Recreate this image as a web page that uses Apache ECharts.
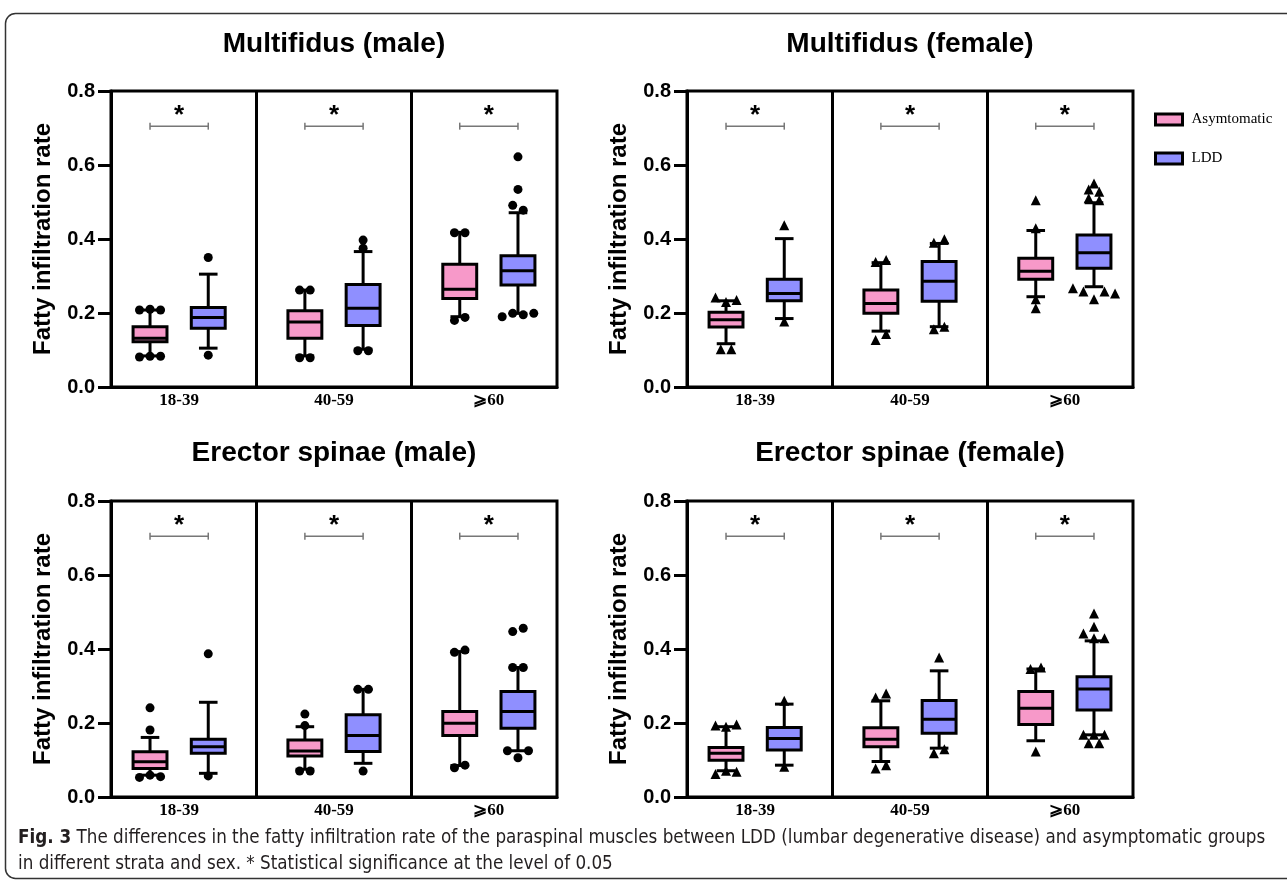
<!DOCTYPE html>
<html><head><meta charset="utf-8">
<script src="https://cdn.jsdelivr.net/npm/echarts@6/dist/echarts.min.js"></script>
<style>html,body{margin:0;padding:0;background:#fff}#c{width:1287px;height:881px}</style>
</head><body><div id="c"></div>
<script>
// ---------------- data ----------------
const categories = ['18-39', '40-59', '⩾60'];
const yTicks = [0, 0.2, 0.4, 0.6, 0.8];
const seriesNames = ['Asymtomatic', 'LDD'];
const panelTitles = ['Multifidus (male)', 'Multifidus (female)', 'Erector spinae (male)', 'Erector spinae (female)'];
const yAxisTitle = 'Fatty infiltration rate';
const captionBold = 'Fig. 3';
const captionLine1 = 'The differences in the fatty infiltration rate of the paraspinal muscles between LDD (lumbar degenerative disease) and asymptomatic groups';
const captionLine2 = 'in different strata and sex. * Statistical significance at the level of 0.05';

// box statistics per age group: [lower whisker, Q1, median, Q3, upper whisker]
const multifidusMaleAsym   = [[0.084, 0.122, 0.132, 0.163, 0.208], [0.084, 0.132, 0.176, 0.206, 0.262], [0.190, 0.239, 0.264, 0.332, 0.418]];
const multifidusMaleLDD    = [[0.105, 0.159, 0.188, 0.215, 0.305], [0.102, 0.166, 0.213, 0.277, 0.366], [0.199, 0.276, 0.314, 0.355, 0.471]];
const multifidusFemaleAsym = [[0.117, 0.162, 0.182, 0.202, 0.233], [0.151, 0.199, 0.226, 0.262, 0.336], [0.244, 0.291, 0.313, 0.348, 0.423]];
const multifidusFemaleLDD  = [[0.185, 0.233, 0.253, 0.291, 0.401], [0.163, 0.232, 0.286, 0.339, 0.388], [0.271, 0.321, 0.363, 0.411, 0.498]];
const erectorMaleAsym      = [[0.059, 0.077, 0.095, 0.122, 0.161], [0.075, 0.111, 0.124, 0.154, 0.190], [0.085, 0.166, 0.199, 0.231, 0.393]];
const erectorMaleLDD       = [[0.064, 0.118, 0.136, 0.156, 0.256], [0.091, 0.123, 0.166, 0.222, 0.291], [0.125, 0.186, 0.231, 0.285, 0.350]];
const erectorFemaleAsym    = [[0.071, 0.099, 0.118, 0.134, 0.190], [0.096, 0.136, 0.156, 0.187, 0.260], [0.152, 0.196, 0.240, 0.285, 0.346]];
const erectorFemaleLDD     = [[0.086, 0.127, 0.158, 0.188, 0.251], [0.132, 0.172, 0.210, 0.261, 0.341], [0.168, 0.235, 0.292, 0.325, 0.422]];

// outliers per age group (listed left to right where they sit side by side)
const multifidusMaleAsymOut   = [[0.208, 0.210, 0.208, 0.081, 0.083, 0.083], [0.262, 0.262, 0.079, 0.079], [0.417, 0.417, 0.180, 0.188]];
const multifidusMaleLDDOut    = [[0.350, 0.086], [0.397, 0.375, 0.098, 0.098], [0.622, 0.534, 0.491, 0.478, 0.190, 0.199, 0.195, 0.199]];
const multifidusFemaleAsymOut = [[0.242, 0.230, 0.235, 0.102, 0.102], [0.338, 0.343, 0.127, 0.143], [0.505, 0.429, 0.237, 0.213]];
const multifidusFemaleLDDOut  = [[0.437, 0.177], [0.390, 0.399, 0.156, 0.163], [0.510, 0.505, 0.534, 0.528, 0.550, 0.267, 0.258, 0.237, 0.258, 0.253]];
const erectorMaleAsymOut      = [[0.241, 0.181, 0.053, 0.059, 0.055], [0.224, 0.193, 0.070, 0.070], [0.391, 0.397, 0.079, 0.086]];
const erectorMaleLDDOut       = [[0.387, 0.057], [0.291, 0.291, 0.070], [0.447, 0.456, 0.350, 0.350, 0.125, 0.106, 0.125]];
const erectorFemaleAsymOut    = [[0.193, 0.190, 0.196, 0.062, 0.071, 0.068], [0.269, 0.280, 0.077, 0.086], [0.346, 0.350, 0.123]];
const erectorFemaleLDDOut     = [[0.260, 0.082], [0.377, 0.118, 0.129], [0.496, 0.442, 0.429, 0.429, 0.460, 0.168, 0.168, 0.168, 0.145, 0.145]];

// significance marks (one per age group)
const significance = ['*', '*', '*'];

// ---------------- layout / style ----------------
const PAIR_OFFSET = 0.188;   // half distance between the two boxes of a group (x units)
const BOX_W = 0.219;
const CAP_W = 0.12;
const JITTER = 0.068;
const CLUSTER_GAP = 0.0215;
const SIG_LEVEL = 0.705;
const X_MIN = -0.44, X_MAX = 2.44;
const COLORS = ['#F799C9', '#8F8FFF'];
const SANS = "'Liberation Sans', Arial, Helvetica, sans-serif";
const SERIF = "'Liberation Serif', 'Times New Roman', 'DejaVu Serif', serif";

const panels = [
  { title: panelTitles[0], box: [multifidusMaleAsym, multifidusMaleLDD], out: [multifidusMaleAsymOut, multifidusMaleLDDOut], symbol: 'circle', pos: { left: 111, top: 91 }, titlePos: [334, 44] },
  { title: panelTitles[1], box: [multifidusFemaleAsym, multifidusFemaleLDD], out: [multifidusFemaleAsymOut, multifidusFemaleLDDOut], symbol: 'triangle', pos: { left: 687, top: 91 }, titlePos: [910, 44] },
  { title: panelTitles[2], box: [erectorMaleAsym, erectorMaleLDD], out: [erectorMaleAsymOut, erectorMaleLDDOut], symbol: 'circle', pos: { left: 111, top: 501 }, titlePos: [334, 453] },
  { title: panelTitles[3], box: [erectorFemaleAsym, erectorFemaleLDD], out: [erectorFemaleAsymOut, erectorFemaleLDDOut], symbol: 'triangle', pos: { left: 687, top: 501 }, titlePos: [910, 453] }
];

function spreadOutliers(groups, side) {
  const pts = [];
  groups.forEach((vals, g) => {
    let cluster = [];
    const flush = () => {
      const n = cluster.length;
      cluster.forEach((v, i) => pts.push([g + side * PAIR_OFFSET + (i - (n - 1) / 2) * JITTER, v]));
      cluster = [];
    };
    vals.forEach(v => {
      if (cluster.length && Math.abs(v - cluster[cluster.length - 1]) >= CLUSTER_GAP) flush();
      cluster.push(v);
    });
    flush();
  });
  return pts;
}

function boxRenderer(side, color) {
  return function (params, api) {
    const x = api.value(0) + side * PAIR_OFFSET;
    const pLow = api.coord([x, api.value(1)]);
    const pQ1 = api.coord([x, api.value(2)]);
    const pMed = api.coord([x, api.value(3)]);
    const pQ3 = api.coord([x, api.value(4)]);
    const pHigh = api.coord([x, api.value(5)]);
    const bw = api.size([BOX_W, 0])[0];
    const cw = api.size([CAP_W, 0])[0];
    const cx = pQ1[0];
    const ls = { stroke: '#000', lineWidth: 3 };
    return {
      type: 'group', children: [
        { type: 'line', shape: { x1: cx, y1: pHigh[1], x2: cx, y2: pQ3[1] }, style: ls },
        { type: 'line', shape: { x1: cx, y1: pQ1[1], x2: cx, y2: pLow[1] }, style: ls },
        { type: 'line', shape: { x1: cx - cw / 2, y1: pHigh[1], x2: cx + cw / 2, y2: pHigh[1] }, style: ls },
        { type: 'line', shape: { x1: cx - cw / 2, y1: pLow[1], x2: cx + cw / 2, y2: pLow[1] }, style: ls },
        { type: 'rect', shape: { x: cx - bw / 2, y: pQ3[1], width: bw, height: pQ1[1] - pQ3[1] }, style: { fill: color, stroke: '#000', lineWidth: 3 } },
        { type: 'line', shape: { x1: cx - bw / 2, y1: pMed[1], x2: cx + bw / 2, y2: pMed[1] }, style: ls }
      ]
    };
  };
}

function sigRenderer(params, api) {
  const g = api.value(0);
  const pL = api.coord([g - PAIR_OFFSET, SIG_LEVEL]);
  const pR = api.coord([g + PAIR_OFFSET, SIG_LEVEL]);
  const st = { stroke: '#777', lineWidth: 1.5 };
  return {
    type: 'group', children: [
      { type: 'line', shape: { x1: pL[0], y1: pL[1], x2: pR[0], y2: pR[1] }, style: st },
      { type: 'line', shape: { x1: pL[0], y1: pL[1] - 3.5, x2: pL[0], y2: pL[1] + 3.5 }, style: st },
      { type: 'line', shape: { x1: pR[0], y1: pR[1] - 3.5, x2: pR[0], y2: pR[1] + 3.5 }, style: st },
      { type: 'text', x: (pL[0] + pR[0]) / 2, y: pL[1] - 10, style: { text: significance[g], fill: '#000', align: 'center', verticalAlign: 'middle', fontSize: 26, fontWeight: 'bold', fontFamily: SANS } }
    ]
  };
}

const grids = [], xAxes = [], yAxes = [], series = [], graphics = [];
panels.forEach((p, i) => {
  grids.push({ left: p.pos.left, top: p.pos.top, width: 446, height: 296, show: true, borderColor: '#000', borderWidth: 3, backgroundColor: 'transparent' });
  xAxes.push({
    type: 'value', gridIndex: i, min: X_MIN, max: X_MAX,
    axisLine: { show: true, onZero: false, lineStyle: { color: '#000', width: 3 } },
    axisTick: { show: false }, splitLine: { show: false },
    axisLabel: { customValues: [0, 1, 2], formatter: v => categories[Math.round(v)], color: '#000', fontFamily: SERIF, fontWeight: 'bold', fontSize: 17, margin: 5 }
  });
  yAxes.push({
    type: 'value', gridIndex: i, min: yTicks[0], max: yTicks[yTicks.length - 1], interval: 0.2,
    name: yAxisTitle, nameLocation: 'middle', nameGap: 56,
    nameTextStyle: { color: '#000', fontFamily: SANS, fontWeight: 'bold', fontSize: 24 },
    axisLine: { show: true, onZero: false, lineStyle: { color: '#000', width: 3 } },
    axisTick: { show: true, length: 13, lineStyle: { color: '#000', width: 3 } },
    splitLine: { show: false },
    axisLabel: { formatter: v => v.toFixed(1), color: '#000', fontFamily: SANS, fontWeight: 'bold', fontSize: 20, margin: 16 }
  });
  [0, 1].forEach(s => {
    const side = s === 0 ? -1 : 1;
    series.push({
      name: seriesNames[s], type: 'custom', xAxisIndex: i, yAxisIndex: i,
      itemStyle: { color: COLORS[s] },
      encode: { x: 0, y: [1, 2, 3, 4, 5] },
      renderItem: boxRenderer(side, COLORS[s]),
      data: p.box[s].map((b, g) => [g].concat(b)),
      silent: true
    });
  });
  [0, 1].forEach(s => {
    const side = s === 0 ? -1 : 1;
    series.push({
      name: seriesNames[s], type: 'scatter', xAxisIndex: i, yAxisIndex: i,
      symbol: p.symbol, symbolSize: p.symbol === 'circle' ? 9 : 10,
      itemStyle: { color: '#000', opacity: 1 },
      data: spreadOutliers(p.out[s], side), silent: true, z: 3
    });
  });
  series.push({
    name: 'significance', type: 'custom', xAxisIndex: i, yAxisIndex: i,
    encode: { x: 0 }, renderItem: sigRenderer, silent: true,
    data: categories.map((c, g) => [g]),
    markLine: {
      silent: true, symbol: 'none', label: { show: false },
      lineStyle: { color: '#000', width: 3, type: 'solid' },
      data: categories.slice(1).map((c, g) => ({ xAxis: g + 0.5 }))
    }
  });
  graphics.push({ type: 'text', x: p.titlePos[0], y: p.titlePos[1], style: { text: p.title, fill: '#000', align: 'center', verticalAlign: 'middle', fontSize: 28, fontWeight: 'bold', fontFamily: SANS } });
});

// caption font sized so that the first caption line spans the figure width
const CAP_FAMILY = "'Liberation Sans Narrow', 'DejaVu Sans Condensed', 'Open Sans', sans-serif";
const measure = document.createElement('canvas').getContext('2d');
measure.font = '100px ' + CAP_FAMILY;
const fullLine1 = captionBold + '  ' + captionLine1;
const capSize = Math.max(12, Math.min(22, 100 * 1245 / measure.measureText(fullLine1).width));

graphics.push({ type: 'rect', shape: { x: 5.5, y: 13.5, width: 1320, height: 865, r: 10 }, style: { fill: 'none', stroke: '#333', lineWidth: 1.5 }, silent: true });
graphics.push({ type: 'text', x: 18, y: 838, style: { text: '{b|' + captionBold + '} ' + captionLine1, rich: { b: { fontWeight: 'bold', fontSize: capSize, fontFamily: CAP_FAMILY, fill: '#231F20' } }, fill: '#231F20', verticalAlign: 'middle', fontSize: capSize, fontFamily: CAP_FAMILY } });
graphics.push({ type: 'text', x: 18, y: 864, style: { text: captionLine2, fill: '#231F20', verticalAlign: 'middle', fontSize: capSize, fontFamily: CAP_FAMILY } });

const chart = echarts.init(document.getElementById('c'), null, { renderer: 'canvas' });
chart.setOption({
  backgroundColor: '#fff',
  animation: false,
  grid: grids, xAxis: xAxes, yAxis: yAxes, series: series,
  legend: {
    orient: 'vertical', left: 1149, top: 107, itemWidth: 27, itemHeight: 11, itemGap: 24, icon: 'rect',
    selectedMode: false,
    textStyle: { color: '#000', fontFamily: SERIF, fontSize: 15, padding: [0, 0, 0, 4] },
    data: seriesNames.map((n, s) => ({ name: n, itemStyle: { color: COLORS[s], borderColor: '#000', borderWidth: 3 } }))
  },
  graphic: graphics
});
</script></body></html>
